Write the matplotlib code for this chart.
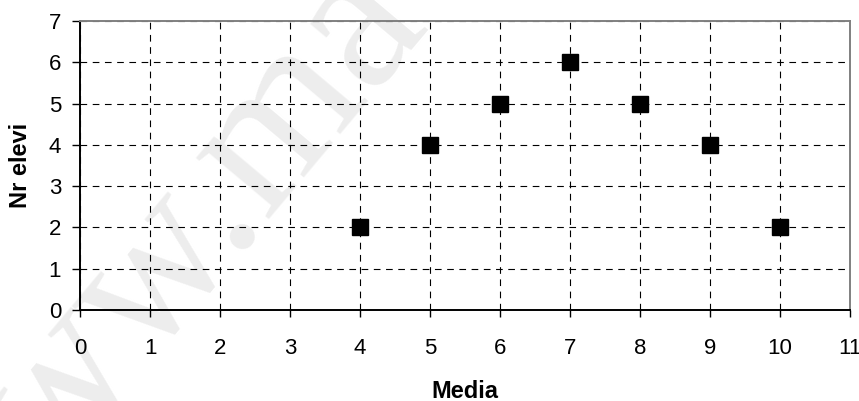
import matplotlib.pyplot as plt

media = [4, 5, 6, 7, 8, 9, 10]
nr_elevi = [2, 4, 5, 6, 5, 4, 2]
x_ticks = list(range(0, 12))
y_ticks = list(range(0, 8))

plt.rcParams['font.family'] = ['Liberation Sans', 'DejaVu Sans']

fig = plt.figure(figsize=(8.59, 4.01), dpi=100)
ax = fig.add_axes([80 / 859, 91 / 401, 770 / 859, 289 / 401])

# faint watermark behind the chart
fig.text(0.178, 0.303, 'www.ma', family=['Liberation Serif', 'DejaVu Serif'],
         fontsize=150, color='#ededed', rotation=50, ha='center', va='center',
         zorder=-1)
ax.patch.set_alpha(0)

ax.plot(media, nr_elevi, linestyle='none', marker='s', markersize=11.5,
        color='black', zorder=3)

ax.set_xlim(0, 11)
ax.set_ylim(0, 7)
ax.set_xticks(x_ticks)
ax.set_yticks(y_ticks)
ax.grid(True, color='black', linestyle=(0, (6, 5)), linewidth=0.8)
ax.set_axisbelow(True)

ax.spines['left'].set_color('black')
ax.spines['bottom'].set_color('black')
ax.spines['top'].set_color('#808080')
ax.spines['right'].set_color('#808080')
for s in ax.spines.values():
    s.set_linewidth(1.4)

ax.tick_params(axis='x', direction='out', length=5, width=1, pad=15, labelsize=16)
ax.tick_params(axis='y', direction='out', length=5.5, width=1, pad=8, labelsize=16)

ax.set_xlabel('Media', fontsize=17, fontweight='bold', labelpad=15)
ax.set_ylabel('Nr elevi', fontsize=17, fontweight='bold', labelpad=12)

plt.savefig('out.png', dpi=100)
